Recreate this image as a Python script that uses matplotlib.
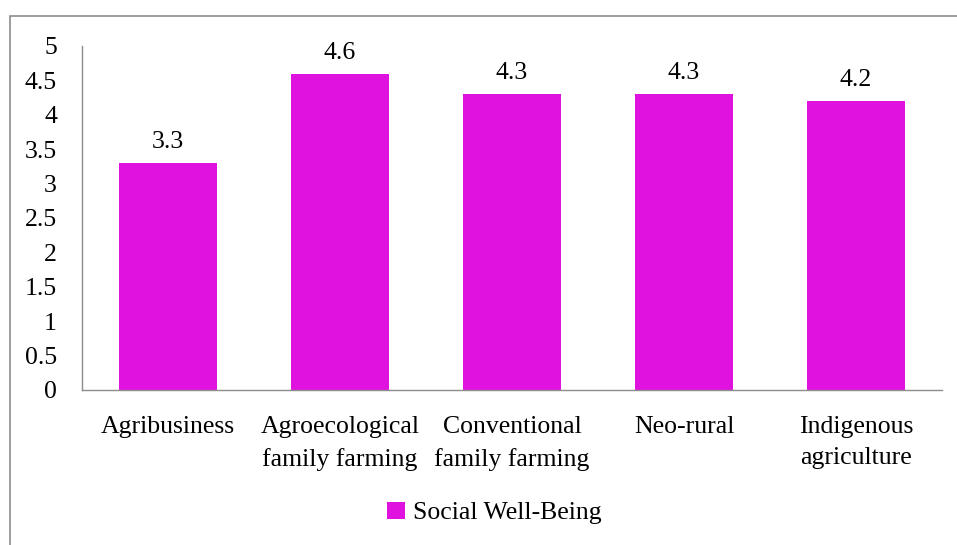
import matplotlib.pyplot as plt
from matplotlib.patches import Rectangle

categories = [
    "Agribusiness",
    "Agroecological\nfamily farming",
    "Conventional\nfamily farming",
    "Neo-rural",
    "Indigenous\nagriculture",
]
values = [3.3, 4.6, 4.3, 4.3, 4.2]
series_name = "Social Well-Being"
y_ticks = [0, 0.5, 1, 1.5, 2, 2.5, 3, 3.5, 4, 4.5, 5]

BAR_COLOR = "#E012E0"
FS = 18.5

plt.rcParams["font.family"] = ["Liberation Serif", "DejaVu Serif"]

fig = plt.figure(figsize=(9.57, 5.45), dpi=100)
ax = fig.add_axes([82 / 957, 155 / 545, 860 / 957, 344 / 545])

# outer chart-area border (runs off the right and bottom edges)
fig.patches.append(
    Rectangle((10 / 957, -0.05), 1.2, (545 - 16) / 545 + 0.05,
              transform=fig.transFigure, fill=False,
              edgecolor="#8c8c8c", linewidth=1.2, zorder=0)
)

x = range(len(categories))
bars = ax.bar(x, values, width=0.57, color=BAR_COLOR, label=series_name)
for xi, v in zip(x, values):
    ax.annotate(f"{v:.1f}", (xi, v), xytext=(0, 7), textcoords="offset points",
                ha="center", va="bottom", fontsize=FS)

ax.set_xlim(-0.5, len(categories) - 0.5)
ax.set_ylim(0, 5)
ax.set_yticks(y_ticks)
ax.set_yticklabels([f"{t:g}" for t in y_ticks], fontsize=FS)
ax.set_xticks(list(x))
ax.set_xticklabels(categories, fontsize=FS, linespacing=1.52)
ax.tick_params(axis="y", length=0, pad=18)
ax.tick_params(axis="x", length=0, pad=19)

for side in ("top", "right"):
    ax.spines[side].set_visible(False)
for side in ("left", "bottom"):
    ax.spines[side].set_color("#8c8c8c")
    ax.spines[side].set_linewidth(1.0)

fig.legend(handles=[bars], labels=[series_name], loc="center",
           bbox_to_anchor=(494 / 957, 1 - 513 / 545), frameon=False,
           fontsize=FS, handlelength=0.7, handleheight=0.7,
           handletextpad=0.3)

fig.savefig("out.png", dpi=100)
